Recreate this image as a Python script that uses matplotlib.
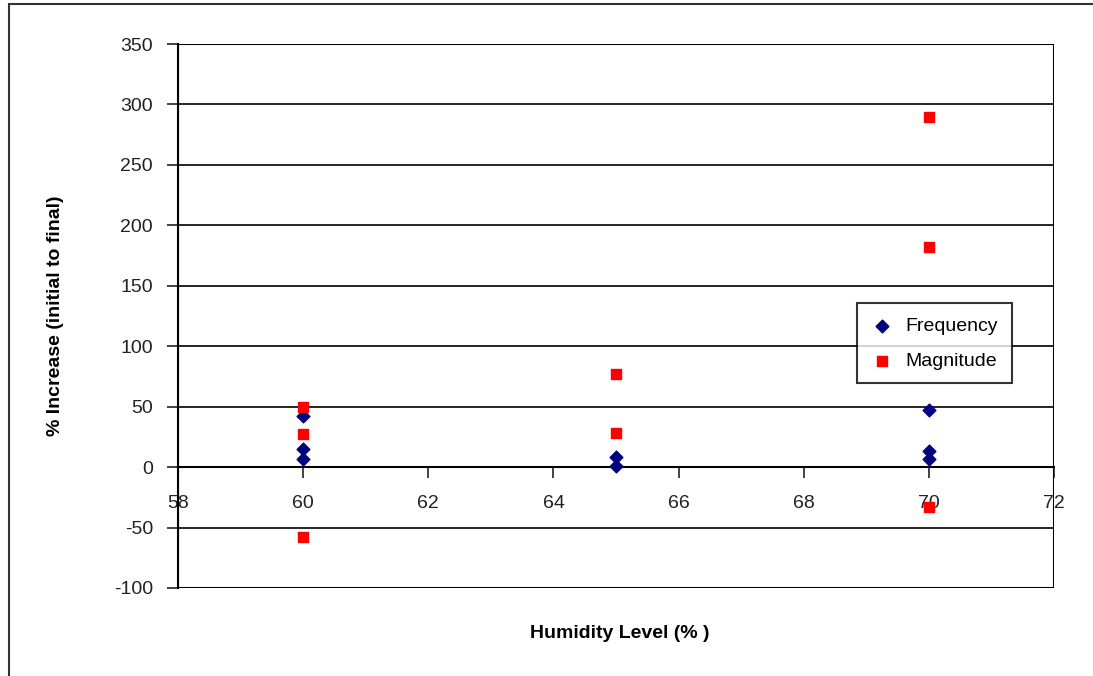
import matplotlib.pyplot as plt
from matplotlib.patches import Rectangle

plt.rcParams['font.family'] = ['Liberation Sans', 'DejaVu Sans']
plt.rcParams['axes.unicode_minus'] = False

# humidity levels and % increase values
freq_x = [60, 60, 60, 65, 65, 70, 70, 70]
freq_y = [42, 15, 7, 8, 1, 47, 13, 7]
mag_x = [60, 60, 60, 65, 65, 70, 70, 70]
mag_y = [50, 27, -58, 77, 28, 290, 182, -33]

x_ticks = [58, 60, 62, 64, 66, 68, 70, 72]
y_ticks = [-100, -50, 0, 50, 100, 150, 200, 250, 300, 350]

fig = plt.figure(figsize=(10.93, 6.76), dpi=100)
ax = fig.add_axes([0.1629, 0.1302, 0.8014, 0.8047])

# outer chart border
fig.patches.append(Rectangle((0.008, -0.05), 1.1, 1.044, transform=fig.transFigure,
                             fill=False, edgecolor='#333333', lw=1.5))

ax.scatter(freq_x, freq_y, marker='D', s=42, color='#000080', label='Frequency', zorder=3)
ax.scatter(mag_x, mag_y, marker='s', s=55, color='#ff0000', label='Magnitude', zorder=3)

ax.set_xlim(58, 72)
ax.set_ylim(-100, 350)
ax.set_xticks(x_ticks)
ax.set_yticks(y_ticks)
ax.yaxis.grid(True, color='black', lw=1.2)
ax.set_axisbelow(True)

ax.spines['bottom'].set_position(('data', 0))
ax.spines['top'].set_visible(False)
ax.spines['right'].set_visible(False)
ax.spines['left'].set_linewidth(1.5)
ax.spines['bottom'].set_linewidth(1.5)
ax.add_patch(Rectangle((0, 0), 1, 1, transform=ax.transAxes, fill=False,
                       edgecolor='black', lw=1.5, zorder=1))

ax.tick_params(axis='x', direction='out', length=8, width=1.2, pad=12, labelsize=14, colors='#222222')
ax.tick_params(axis='y', direction='out', length=8, width=1.2, pad=10, labelsize=14, colors='#222222')

ax.set_ylabel('% Increase (initial to final)', fontsize=14, fontweight='bold', labelpad=36)
fig.text(0.567, 0.063, 'Humidity Level (% )', fontsize=14, fontweight='bold', ha='center', va='center')

leg = ax.legend(loc='upper left', bbox_to_anchor=(0.775, 0.523), borderaxespad=0, frameon=True,
                fancybox=False, edgecolor='black', fontsize=14, handletextpad=0.6, borderpad=0.7,
                labelspacing=0.9, handlelength=1.2)
leg.get_frame().set_linewidth(1.5)

fig.savefig('out.png', dpi=100)
